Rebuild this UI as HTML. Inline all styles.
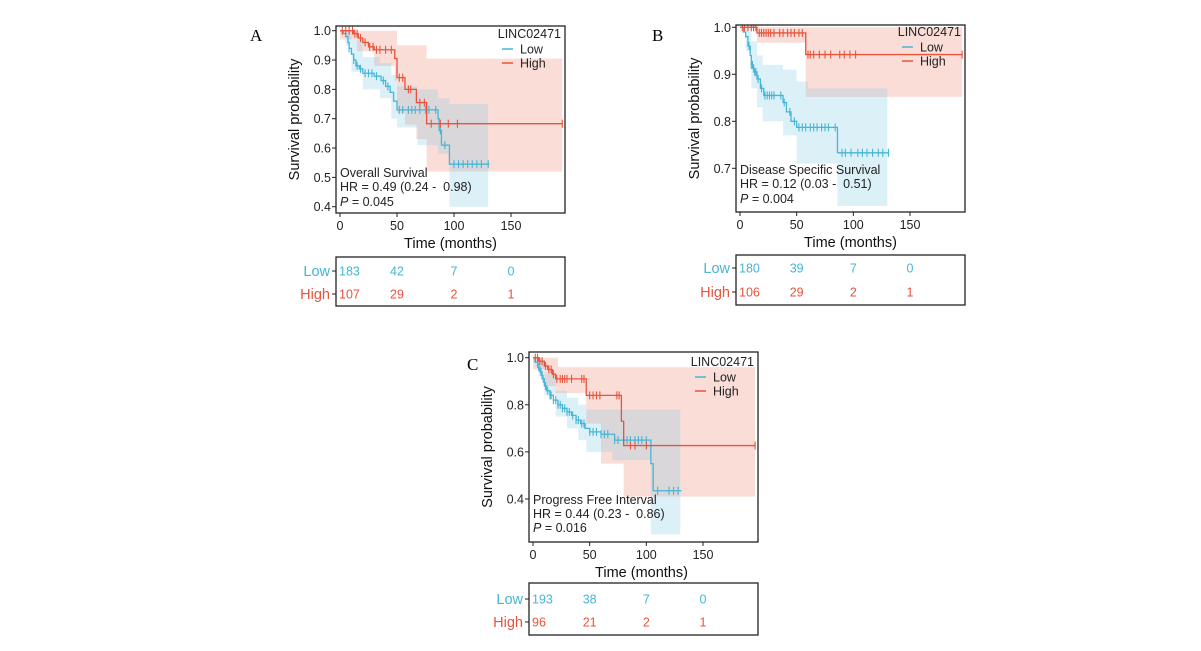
<!DOCTYPE html>
<html><head><meta charset="utf-8"><style>
body{margin:0;background:#fff;}
svg{display:block;font-family:"Liberation Sans",sans-serif;}
text{white-space:pre;}
</style></head><body>
<svg id="c" width="1201" height="651" viewBox="0 0 1201 651"></svg>
<script>
// ---------- Panel A data (Overall Survival) ----------
const aLowSteps=[[0,1],[3,0.99],[5,0.98],[7,0.96],[8,0.94],[10,0.92],[12,0.9],[14,0.88],[17,0.87],[20,0.855],[30,0.845],[36,0.83],[40,0.81],[44,0.79],[47,0.76],[50,0.73],[86,0.70],[87,0.66],[89,0.61],[96,0.545]];
const aLowEnd=131;
const aLowCens=[8,12,15,18,22,25,28,32,38,42,52,55,60,63,66,70,75,78,84,88,92,100,104,108,112,116,120,124,130];
const aLowCI=[[0,1,1],[5,0.95,1],[10,0.86,0.97],[20,0.80,0.91],[35,0.77,0.89],[45,0.70,0.85],[50,0.67,0.81],[68,0.61,0.80],[86,0.58,0.77],[96,0.40,0.75]];
const aLowCIEnd=130;
const aHighSteps=[[0,1],[12,0.99],[16,0.975],[20,0.96],[25,0.945],[30,0.935],[48,0.905],[50,0.84],[57,0.80],[67,0.755],[76,0.683]];
const aHighEnd=195;
const aHighCens=[2,5,8,11,13,15,18,22,26,29,32,35,40,45,52,55,60,62,70,74,80,88,95,103,195];
const aHighCI=[[0,0.97,1],[15,0.93,1],[30,0.88,1],[48,0.83,1],[50,0.72,0.95],[57,0.68,0.95],[67,0.63,0.95],[76,0.52,0.905]];
const aHighCIEnd=195;
const aYTicks=[0.4,0.5,0.6,0.7,0.8,0.9,1.0];
const aRiskLow=[183,42,7,0];
const aRiskHigh=[107,29,2,1];
// ---------- Panel B data (Disease Specific Survival) ----------
const bLowSteps=[[0,1],[3,0.99],[5,0.98],[7,0.96],[9,0.94],[10,0.92],[12,0.905],[15,0.89],[18,0.87],[21,0.855],[38,0.84],[41,0.82],[45,0.80],[50,0.787],[86,0.733]];
const bLowEnd=131;
const bLowCens=[8,10,11,13,14,16,19,22,24,26,28,30,36,39,44,48,52,55,58,62,65,68,72,75,78,84,90,93,98,104,108,112,117,122,126,131];
const bLowCI=[[0,1,1],[5,0.95,1],[10,0.87,0.97],[15,0.83,0.94],[20,0.80,0.92],[38,0.77,0.91],[50,0.71,0.885],[60,0.71,0.87],[86,0.62,0.87]];
const bLowCIEnd=130;
const bHighSteps=[[0,1],[15,0.988],[58,0.942]];
const bHighEnd=196;
const bHighCens=[2,4,7,10,12,14,17,19,21,23,25,27,30,35,38,42,45,48,52,55,60,62,65,70,75,80,88,92,97,102,196];
const bHighCI=[[0,1,1],[15,0.967,1],[58,0.852,1]];
const bHighCIEnd=196;
const bYTicks=[0.7,0.8,0.9,1.0];
const bRiskLow=[180,39,7,0];
const bRiskHigh=[106,29,2,1];
// ---------- Panel C data (Progress Free Interval) ----------
const cLowSteps=[[0,1],[2,0.98],[4,0.96],[6,0.94],[8,0.91],[10,0.88],[12,0.86],[15,0.84],[18,0.82],[22,0.80],[26,0.785],[30,0.77],[34,0.755],[38,0.735],[42,0.72],[46,0.70],[50,0.685],[60,0.675],[72,0.65],[104,0.55],[106,0.435]];
const cLowEnd=131;
const cLowCens=[5,7,9,11,13,15,16,18,20,22,24,26,28,30,32,35,38,40,43,45,50,53,56,60,63,66,72,75,80,83,86,90,93,96,100,110,120,124,128];
const cLowCI=[[0,0.98,1],[5,0.92,0.99],[10,0.84,0.93],[20,0.75,0.86],[30,0.70,0.83],[40,0.65,0.80],[47,0.60,0.78],[70,0.565,0.78],[104,0.25,0.78]];
const cLowCIEnd=130;
const cHighSteps=[[0,1],[5,0.985],[10,0.965],[13,0.95],[17,0.93],[20,0.91],[47,0.84],[78,0.73],[80,0.627]];
const cHighEnd=196;
const cHighCens=[2,4,6,8,11,14,16,18,21,24,26,28,30,34,43,45,50,53,56,59,74,76,86,90,100,196];
const cHighCI=[[0,0.95,1],[10,0.88,1],[20,0.85,1],[22,0.85,0.96],[47,0.72,0.96],[60,0.55,0.96],[80,0.41,0.96]];
const cHighCIEnd=196;
const cYTicks=[0.4,0.6,0.8,1.0];
const cRiskLow=[193,38,7,0];
const cRiskHigh=[96,21,2,1];

const xTicks=[0,50,100,150];
const riskTimes=[0,50,100,150];
const BLUE="#46b5d6", RED="#e8533c";
const NS="http://www.w3.org/2000/svg";
const svg=document.getElementById('c');
function mk(tag,attrs,parent,text){const e=document.createElementNS(NS,tag);for(const k in attrs)e.setAttribute(k,attrs[k]);if(text!==undefined)e.textContent=text;(parent||svg).appendChild(e);return e;}

const panels=[
 {id:'a',letter:'A',lx:250,ly:41,box:[336,26,565,213],x0:340,x150:511,y1:30.7,yRef:0.4,yRefPx:206.7,
  ticks:aYTicks,low:[aLowSteps,aLowEnd,aLowCens,aLowCI,aLowCIEnd],high:[aHighSteps,aHighEnd,aHighCens,aHighCI,aHighCIEnd],
  title:'Overall Survival',hr:'HR = 0.49 (0.24 -  0.98)',p:'0.045',annY:[177,191,206],
  table:[336,257,565,306],rows:[271,294],rl:aRiskLow,rh:aRiskHigh,leg:[34,49,63]},
 {id:'b',letter:'B',lx:652,ly:41,box:[736,25,965,212],x0:740,x150:910,y1:27.3,yRef:0.7,yRefPx:168.3,
  ticks:bYTicks,low:[bLowSteps,bLowEnd,bLowCens,bLowCI,bLowCIEnd],high:[bHighSteps,bHighEnd,bHighCens,bHighCI,bHighCIEnd],
  title:'Disease Specific Survival',hr:'HR = 0.12 (0.03 -  0.51)',p:'0.004',annY:[174,188,203],
  table:[736,255,965,305],rows:[268,292],rl:bRiskLow,rh:bRiskHigh,leg:[32,47,61]},
 {id:'c',letter:'C',lx:467,ly:370,box:[529,352,758,542],x0:533,x150:703,y1:357.7,yRef:0.4,yRefPx:499,
  ticks:cYTicks,low:[cLowSteps,cLowEnd,cLowCens,cLowCI,cLowCIEnd],high:[cHighSteps,cHighEnd,cHighCens,cHighCI,cHighCIEnd],
  title:'Progress Free Interval',hr:'HR = 0.44 (0.23 -  0.86)',p:'0.016',annY:[504,518,532],
  table:[529,583,758,635],rows:[599,622],rl:cRiskLow,rh:cRiskHigh,leg:[362,377,391]}
];

panels.forEach(P=>{
 const g=mk('g',{});
 
 
 const X=t=>P.x0+(P.x150-P.x0)*t/150;
 const Y=s=>P.y1+(P.yRefPx-P.y1)*(1-s)/(1-P.yRef);
 const [bx0,by0,bx1,by1]=P.box;
 const lt=mk('text',{x:P.lx,y:P.ly,'font-family':'Liberation Serif,serif','font-size':17},g,P.letter);
 
 
 const clip=mk('clipPath',{id:'clip'+P.id},g);
 mk('rect',{x:bx0,y:by0,width:bx1-bx0,height:by1-by0},clip);
 const plot=mk('g',{'clip-path':'url(#clip'+P.id+')'},g);
 function band(ci,end,color,name){
  let top='',bot=[];
  ci.forEach((c,i)=>{const t1=i<ci.length-1?ci[i+1][0]:end;
   top+=(i?'L':'M')+X(c[0])+','+Y(c[2])+'L'+X(t1)+','+Y(c[2]);
   bot.unshift('L'+X(t1)+','+Y(c[1])+'L'+X(c[0])+','+Y(c[1]));});
  const e=mk('path',{d:top+bot.join('')+'Z',fill:color,'fill-opacity':0.27},plot);
  
  
 }
 function curve(steps,end,cens,color,name){
  let d='';
  steps.forEach((s,i)=>{const t1=i<steps.length-1?steps[i+1][0]:end;
   d+=(i?'L':'M')+X(s[0])+','+Y(s[1])+'L'+X(t1)+','+Y(s[1]);});
  const e=mk('path',{d:d,fill:'none',stroke:color,'stroke-width':1.3},plot);
  
  
  cens.forEach(t=>{let s=steps[0][1];steps.forEach(st=>{if(st[0]<=t)s=st[1];});
   const m=mk('path',{d:'M'+(X(t))+','+(Y(s)-4)+'v8',stroke:color,'stroke-width':1.1},plot);
   
   });
 }
 band(P.high[3],P.high[4],'#f08070','high-ci-band');
 band(P.low[3],P.low[4],'#7cc8e0','low-ci-band');
 curve(P.low[0],P.low[1],P.low[2],BLUE,'low');
 curve(P.high[0],P.high[1],P.high[2],RED,'high');
 const bx=mk('rect',{x:bx0,y:by0,width:bx1-bx0,height:by1-by0,fill:'none',stroke:'#222','stroke-width':1.3},g);
 
 
 P.ticks.forEach(v=>{
  mk('line',{x1:bx0-4,x2:bx0,y1:Y(v),y2:Y(v),stroke:'#222'},g);
  const t=mk('text',{x:bx0-5,y:Y(v)+4.5,'text-anchor':'end','font-size':12.5,fill:'#222'},g,v.toFixed(1));
  
  
 });
 xTicks.forEach(v=>{
  mk('line',{x1:X(v),x2:X(v),y1:by1,y2:by1+4,stroke:'#222'},g);
  const t=mk('text',{x:X(v),y:by1+17,'text-anchor':'middle','font-size':12.5,fill:'#222'},g,v);
  
  
 });
 const xt=mk('text',{x:(bx0+bx1)/2+(P.id==='c'?-2:0),y:by1+35,'text-anchor':'middle','font-size':14.5,fill:'#111'},g,'Time (months)');
 
 
 const yt=mk('text',{x:0,y:0,transform:'translate('+(bx0-37)+','+((by0+by1)/2)+') rotate(-90)','text-anchor':'middle','font-size':14.5,fill:'#111'},g,'Survival probability');
 
 
 const lg=mk('g',{},g);
 
 
 mk('text',{x:bx1-4,y:P.leg[0]+4,'text-anchor':'end','font-size':12.5,fill:'#222'},lg,'LINC02471');
 mk('line',{x1:bx1-63,x2:bx1-52,y1:P.leg[1],y2:P.leg[1],stroke:BLUE,'stroke-width':1.5},lg);
 mk('text',{x:bx1-45,y:P.leg[1]+4.5,'font-size':12.5,fill:'#222'},lg,'Low');
 mk('line',{x1:bx1-63,x2:bx1-52,y1:P.leg[2],y2:P.leg[2],stroke:RED,'stroke-width':1.5},lg);
 mk('text',{x:bx1-45,y:P.leg[2]+4.5,'font-size':12.5,fill:'#222'},lg,'High');
 const an=mk('g',{'font-size':12.5,fill:'#222'},g);
 
 
 mk('text',{x:bx0+4,y:P.annY[0]},an,P.title);
 mk('text',{x:bx0+4,y:P.annY[1]},an,P.hr);
 const pt=mk('text',{x:bx0+4,y:P.annY[2]},an);
 mk('tspan',{'font-style':'italic'},pt,'P');
 mk('tspan',{},pt,' = '+P.p);
 const [tx0,ty0,tx1,ty1]=P.table;
 const tb=mk('rect',{x:tx0,y:ty0,width:tx1-tx0,height:ty1-ty0,fill:'none',stroke:'#222','stroke-width':1.3},g);
 
 
 [[P.rl,'Low',BLUE,P.rows[0]],[P.rh,'High',RED,P.rows[1]]].forEach(r=>{
  mk('line',{x1:tx0-4,x2:tx0,y1:r[3],y2:r[3],stroke:'#222'},g);
  const l=mk('text',{x:tx0-6,y:r[3]+5,'text-anchor':'end','font-size':14.5,fill:r[2]},g,r[1]);
  
  
  r[0].forEach((v,i)=>{
   const n=mk('text',{x:i===0?tx0+3:X(riskTimes[i]),y:r[3]+4.5,'text-anchor':i===0?'start':'middle','font-size':12.5,fill:r[2]},g,v);
   
   
  });
 });
});
</script>
</body></html>
